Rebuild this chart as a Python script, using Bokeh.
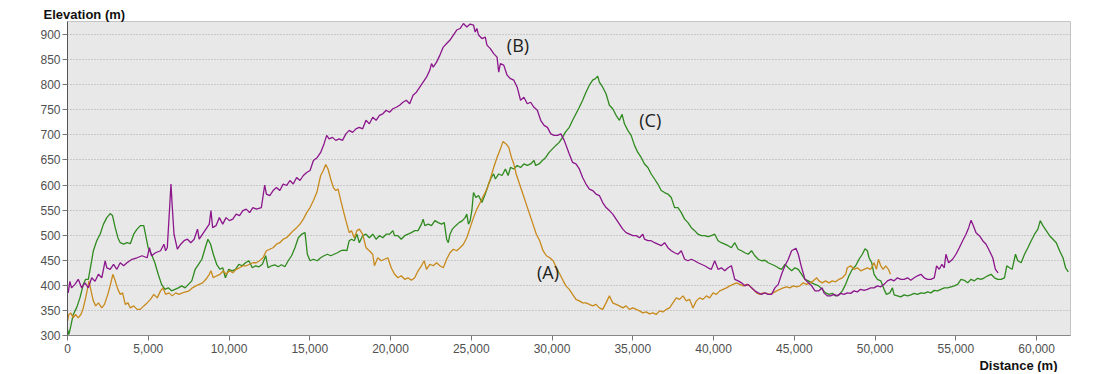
from bokeh.plotting import figure
from bokeh.models import Label, SingleIntervalTicker, NumeralTickFormatter, Range1d, Title
from bokeh.embed import file_html
from bokeh.resources import INLINE

# ---- data: distance (m) and elevation (m) ----
A_dist = [0, 83, 208, 354, 499, 666, 832, 978, 1123, 1248, 1331, 1456, 1602, 1747, 1914, 2122, 2288, 2496, 2662, 2808,
          2954, 3120, 3266, 3411, 3578, 3744, 3890, 4098, 4306, 4514, 4722, 4930, 5138, 5346, 5554, 5762, 5907, 6074,
          6282, 6490, 6698, 6906, 7114, 7322, 7530, 7738, 7946, 8154, 8362, 8570, 8778, 8882, 9027, 9235, 9443, 9651,
          9818, 10026, 10234, 10442, 10650, 10858, 11066, 11274, 11482, 11690, 11898, 12106, 12314, 12522, 12730,
          12938, 13146, 13354, 13562, 13770, 13978, 14186, 14394, 14602, 14810, 15018, 15226, 15434,
          15674, 15840, 15986, 16131, 16298, 16464, 16610, 16755, 16922, 17130, 17296, 17442, 17587, 17754, 17920,
          18066, 18274, 18482, 18690, 18898, 19002, 19210, 19418, 19626, 19834, 20042, 20250, 20458, 20666, 20874,
          21082, 21290, 21498, 21706, 21914, 22080, 22226, 22434, 22642, 22850, 23058, 23266, 23474, 23682, 23890,
          24098, 24306, 24514, 24722, 24930, 25138, 25346, 25554, 25762, 25970, 26178, 26386, 26594, 26802, 26968,
          27155, 27322, 27488, 27634, 27779, 27987, 28195, 28403, 28611, 28819, 29027, 29235, 29443, 29651, 29859,
          30067, 30275, 30483, 30691, 30858, 31067, 31274, 31481, 31688, 31895, 32102, 32309, 32516, 32723, 32930,
          33137, 33344, 33551, 33758, 33965, 34172, 34379, 34586, 34793, 35000, 35207, 35414, 35621, 35828, 36035,
          36242, 36449, 36656, 36863, 37070, 37277, 37484, 37691, 37898, 38105, 38312, 38519, 38726, 38933, 39140,
          39347, 39554, 39761, 39968, 40175, 40382, 40589, 40796, 41003, 41210, 41417, 41624, 41831, 42038, 42245,
          42452, 42659, 42866, 43073, 43280, 43487, 43694, 43901, 44108, 44315, 44522, 44729, 44936, 45143, 45350,
          45557, 45764, 45971, 46178, 46385, 46522, 46729, 46936, 47143, 47350, 47557, 47764, 47971, 48178, 48282,
          48489, 48696, 48903, 49110, 49317, 49524, 49731, 49938, 50083, 50207, 50352, 50497, 50662, 50828, 50952]
A_elev = [329, 342, 345, 335, 342, 335, 342, 355, 375, 395, 409, 389, 369, 359, 365, 355, 362, 382, 402, 422,
          409, 392, 382, 385, 362, 365, 355, 359, 352, 352, 359, 365, 372, 382, 375, 389, 395, 382,
          385, 379, 385, 382, 385, 387, 389, 395, 399, 402, 405, 412, 422, 429, 415, 419, 422, 429,
          422, 429, 425, 432, 435, 439, 439, 442, 445, 445, 449, 455, 469, 472, 475,
          482, 485, 492, 495, 502, 509, 515, 522, 532, 545, 555, 569, 585,
          619, 629, 641, 632, 612, 595, 589, 592, 569, 542, 522, 505, 509, 495, 509,
          512, 502, 475, 469, 462, 439, 455, 449, 452, 455, 435, 422, 415, 419, 412,
          415, 410, 415, 429, 439, 449, 432, 442, 439, 445, 439, 435, 452, 465, 472,
          469, 475, 482, 495, 515, 535, 552, 565, 579, 592, 612, 635, 655, 672, 687,
          682, 675, 655, 642, 622, 602, 582, 562, 542, 522, 502, 489, 469, 459, 455,
          449, 435, 422, 409, 399, 392, 382, 372, 369, 365, 365, 362, 359, 362, 355,
          352, 365, 379, 365, 362, 359, 355, 359, 352, 355, 352, 349, 345, 347, 343,
          345, 342, 349, 347, 352, 355, 365, 375, 372, 379, 369, 372, 355, 369, 375,
          372, 379, 375, 385, 382, 389, 392, 395, 399, 402, 405, 402, 399, 402, 399,
          392, 385, 382, 385, 384, 382, 385, 389, 392, 395, 397, 395, 399, 397, 399,
          405, 402, 405, 409, 415, 409, 405, 409, 405, 409, 407, 412, 415, 422, 435,
          439, 432, 435, 429, 432, 435, 432, 445, 432, 452, 439, 432, 439, 432, 422]

B_dist = [0, 42, 146, 250, 458, 666, 874, 1082, 1290, 1498, 1706, 1914, 2122, 2330, 2434, 2642, 2850, 3058, 3266, 3474,
          3682, 3994, 4306, 4618, 4930, 5075, 5200, 5450, 5762, 5970, 6074, 6178, 6323, 6406, 6490, 6594, 6802, 7010,
          7218, 7426, 7634, 7842, 8050, 8154, 8362, 8570, 8778, 8882, 8986, 9194, 9402, 9610, 9818, 10026, 10234,
          10442, 10650, 10858, 11066, 11274, 11482, 11690, 12002, 12210, 12314, 12522, 12730, 12938, 13146, 13354,
          13562, 13770, 13978, 14186, 14394, 14602, 14810, 15018, 15226, 15466, 15674, 15882, 16048, 16194, 16402,
          16610, 16818, 17026, 17234, 17442, 17650, 17858, 18066, 18274, 18482, 18690, 18898, 19106, 19314, 19522,
          19730, 19938, 20146, 20354, 20562, 20770, 20978, 21186, 21394, 21602, 21810, 22018, 22226, 22434, 22538,
          22642, 22850, 23058, 23266, 23474, 23682, 23890, 24098, 24306, 24514, 24722, 24930, 25138, 25242, 25346,
          25450, 25658, 25866, 25970, 26178, 26386, 26594, 26698, 26802, 27010, 27218, 27426, 27634, 27842, 28050,
          28258, 28466, 28674, 28882, 29090, 29298, 29506, 29714, 29922, 30130, 30338, 30546, 30754, 31067, 31274,
          31481, 31688, 31895, 32102, 32309, 32516, 32723, 32930, 33137, 33344, 33551, 33758, 33965, 34172, 34379,
          34586, 34793, 35000, 35207, 35414, 35621, 35725, 35932, 36139, 36346, 36553, 36760, 36967, 37174, 37381,
          37588, 37795, 38002, 38209, 38416, 38623, 38830, 39037, 39244, 39451, 39658, 39865, 40072, 40279, 40486,
          40693, 40900, 41107, 41314, 41521, 41728, 41935, 42142, 42349, 42556, 42763, 42970, 43177, 43384, 43591,
          43798, 44005, 44212, 44419, 44626, 44833, 45102, 45247, 45454, 45661, 45868, 46075, 46282, 46522, 46729,
          46833, 47040, 47247, 47454, 47661, 47868, 48075, 48282, 48489, 48696, 48903, 49110, 49317, 49524, 49731,
          49938, 50145, 50352, 50559, 50766, 50973, 51180, 51387, 51594, 51801, 52008, 52215, 52422, 52629, 52836,
          53043, 53250, 53457, 53664, 53809, 53974, 54140, 54285, 54388, 54554, 54802, 55009, 55216, 55423, 55630,
          55796, 55941, 56086, 56251, 56458, 56665, 56872, 57079, 57286, 57452, 57618]
B_elev = [389, 385, 408, 395, 402, 412, 395, 405, 395, 415, 408, 422, 415, 449, 435, 432, 442, 432, 445, 439,
          445, 452, 455, 459, 455, 475, 459, 465, 469, 482, 469, 475, 555, 602, 555, 502, 472, 482,
          489, 492, 485, 492, 512, 492, 502, 512, 522, 549, 515, 519, 535, 522, 535, 529, 532,
          542, 539, 549, 552, 545, 555, 552, 555, 600, 582, 579, 589, 595, 589, 602,
          599, 609, 602, 615, 609, 619, 625, 629, 649, 655, 665, 682, 699, 692, 695,
          689, 692, 689, 702, 709, 705, 712, 715, 712, 729, 722, 735, 729, 739, 742,
          749, 745, 752, 755, 759, 765, 769, 762, 779, 785, 795, 805, 815, 829, 842,
          835, 845, 859, 875, 882, 889, 899, 909, 912, 922, 915, 921, 919, 905, 912,
          899, 892, 895, 879, 872, 862, 855, 825, 842, 839, 819, 812, 809, 795, 769,
          775, 762, 765, 755, 749, 729, 719, 715, 702, 699, 699, 702, 689, 662, 645,
          642, 632, 615, 602, 592, 589, 582, 579, 565, 555, 549, 542, 532, 522, 512,
          505, 502, 499, 499, 495, 502, 492, 489, 489, 485, 482, 479, 485, 475, 469,
          465, 462, 469, 452, 449, 452, 449, 445, 442, 439, 435, 432, 449, 432, 435,
          429, 435, 439, 412, 409, 405, 399, 402, 395, 389, 385, 382, 385, 382, 382,
          395, 402, 422, 439, 452, 469, 474, 462, 435, 412, 405, 399, 389, 389, 395,
          385, 379, 379, 382, 379, 384, 382, 385, 384, 389, 387, 392, 390, 392, 395,
          395, 399, 397, 402, 409, 412, 409, 415, 412, 412, 415, 410, 415, 419, 422,
          415, 412, 412, 415, 439, 432, 442, 435, 462, 445, 452, 462, 475, 489, 502,
          515, 530, 519, 505, 499, 489, 482, 469, 455, 432, 425]

C_dist = [0, 83, 208, 354, 562, 770, 978, 1123, 1290, 1456, 1602, 1810, 2018, 2226, 2434, 2642, 2787, 2954, 3120, 3266,
          3474, 3682, 3890, 4098, 4306, 4514, 4722, 4826, 4992, 5200, 5408, 5616, 5824, 6032, 6240, 6448, 6656, 6864,
          7072, 7280, 7488, 7696, 7904, 8112, 8320, 8528, 8694, 8861, 9027, 9235, 9443, 9610, 9776, 9984, 10192,
          10400, 10608, 10816, 11024, 11232, 11440, 11648, 11856, 12064, 12272, 12418, 12626, 12834, 13042, 13250,
          13458, 13666, 13874, 14082, 14290, 14498, 14706, 14851, 15018, 15226, 15466, 15674, 15882, 16090, 16298,
          16506, 16714, 16922, 17130, 17296, 17442, 17587, 17754, 17920, 18066, 18274, 18482, 18690, 18898, 19106,
          19314, 19522, 19730, 19938, 20146, 20250, 20458, 20666, 20874, 21082, 21290, 21498, 21706, 21914, 22018,
          22122, 22330, 22538, 22746, 22954, 23162, 23328, 23474, 23578, 23682, 23827, 24035, 24243, 24451, 24618,
          24722, 24826, 24930, 25034, 25138, 25283, 25450, 25658, 25866, 26074, 26240, 26386, 26490, 26698, 26906,
          27114, 27280, 27426, 27634, 27842, 28050, 28258, 28466, 28674, 28882, 28986, 29194, 29402, 29610, 29818,
          30026, 30234, 30442, 30650, 30816, 31067, 31274, 31481, 31688, 31895, 32102, 32309, 32516, 32682, 32826,
          32930, 33137, 33344, 33551, 33758, 33965, 34172, 34338, 34483, 34690, 34897, 35104, 35311, 35518, 35725,
          35932, 36139, 36346, 36553, 36760, 36967, 37174, 37381, 37588, 37795, 38002, 38209, 38416, 38623, 38830,
          39037, 39244, 39451, 39658, 39865, 40072, 40279, 40486, 40693, 40900, 41107, 41314, 41521, 41728, 41935,
          42142, 42349, 42556, 42763, 42970, 43177, 43384, 43591, 43798, 44005, 44212, 44419, 44626, 44833, 45040,
          45247, 45454, 45661, 45868, 46075, 46282, 46509, 46729, 46936, 47143, 47350, 47557, 47764, 47971, 48178,
          48385, 48592, 48799, 49006, 49213, 49379, 49524, 49627, 49793, 49938, 50145, 50352, 50559, 50704, 50911,
          51076, 51180, 51387, 51594, 51801, 52008, 52215, 52422, 52629, 52836, 53043, 53250, 53457, 53664, 53871,
          54078, 54285, 54492, 54699, 54906, 55113, 55320, 55527, 55734, 55941, 56148, 56355, 56562, 56769, 56976,
          57183, 57390, 57597, 57804, 58011, 58156, 58321, 58487, 58694, 58839, 59046, 59253, 59460, 59667, 59874,
          60081, 60226, 60391, 60598, 60805, 61012, 61219, 61426, 61633, 61799, 61965]
C_elev = [312, 302, 319, 342, 355, 375, 402, 412, 412, 442, 469, 489, 502, 522, 535, 543, 539, 515, 495, 485,
          482, 485, 483, 502, 512, 519, 519, 502, 475, 462, 445, 422, 402, 392, 395, 389, 392, 395,
          399, 395, 402, 409, 432, 442, 452, 475, 492, 482, 462, 442, 432, 435, 415, 432, 429,
          432, 442, 439, 445, 449, 435, 439, 437, 442, 459, 435, 439, 441, 437, 441,
          437, 449, 459, 475, 495, 502, 505, 462, 449, 452, 449, 455, 459, 462, 459,
          462, 465, 469, 470, 469, 489, 492, 489, 502, 485, 499, 502, 495, 502, 492,
          499, 495, 502, 502, 509, 499, 499, 492, 499, 502, 505, 509, 509, 522, 532,
          519, 522, 519, 529, 525, 522, 525, 492, 485, 502, 512, 519, 525, 529, 535,
          542, 522, 529, 549, 585, 575, 579, 565, 582, 602, 615, 622, 612, 622, 619,
          632, 619, 635, 632, 639, 635, 642, 639, 642, 649, 639, 642, 649, 655, 665,
          672, 679, 685, 695, 705, 715, 729, 742, 755, 769, 785, 799, 809, 812, 817,
          805, 795, 782, 759, 752, 739, 729, 741, 722, 709, 699, 679, 665, 655, 642,
          635, 622, 612, 602, 589, 585, 582, 575, 555, 555, 545, 532, 525, 515, 509,
          502, 499, 499, 497, 499, 502, 489, 485, 482, 479, 475, 485, 472, 469, 465,
          462, 469, 459, 452, 449, 450, 445, 442, 439, 435, 432, 442, 435, 429, 435,
          432, 422, 412, 409, 405, 402, 399, 392, 385, 382, 384, 379, 381, 389, 402,
          419, 432, 439, 452, 462, 473, 469, 455, 445, 422, 412, 409, 392, 382, 385,
          395, 381, 379, 377, 381, 379, 381, 384, 382, 385, 384, 387, 385, 390, 389,
          392, 395, 395, 397, 399, 402, 412, 410, 405, 412, 409, 414, 412, 415, 419,
          422, 415, 412, 412, 415, 439, 435, 432, 462, 449, 445, 462, 475, 489, 502,
          512, 529, 519, 509, 499, 492, 485, 469, 455, 435, 427]

x_ticks_interval = 5000
y_ticks_interval = 50

COL_A = "#c88a1c"
COL_B = "#8c168c"
COL_C = "#2f8a1f"

W, H = 1096, 372
p = figure(width=W, height=H, output_backend="svg", toolbar_location=None,
           x_range=Range1d(0, 62100), y_range=Range1d(300, 926),
           min_border_left=67, min_border_right=W - 1070, min_border_top=21, min_border_bottom=H - 336)
p.background_fill_color = "#e8e8e8"
p.border_fill_color = "white"
p.outline_line_color = "#c4c4c4"
p.outline_line_width = 1

p.line(C_dist, C_elev, line_color=COL_C, line_width=1.3)
p.line(A_dist, A_elev, line_color=COL_A, line_width=1.3)
p.line(B_dist, B_elev, line_color=COL_B, line_width=1.3)

p.xgrid.visible = False
p.ygrid.grid_line_color = "#a8a8a8"
p.ygrid.grid_line_dash = "1 2"
p.ygrid.grid_line_width = 1

p.xaxis.ticker = SingleIntervalTicker(interval=x_ticks_interval)
p.yaxis.ticker = SingleIntervalTicker(interval=y_ticks_interval)
p.xaxis.formatter = NumeralTickFormatter(format="0,0")
for ax in (p.xaxis, p.yaxis):
    ax.minor_tick_line_color = None
    ax.major_label_text_font = "Liberation Sans"
    ax.major_label_text_font_size = "12px"
    ax.major_label_text_color = "#505050"
    ax.major_tick_in = 0
    ax.major_tick_out = 5
    ax.major_tick_line_color = "#777777"
p.yaxis.axis_line_color = "#555555"
p.xaxis.axis_line_color = "#888888"
p.yaxis.major_label_standoff = 2
p.xaxis.major_label_standoff = 3

p.title.text = "Elevation (m)"
p.title.align = "left"
p.title.offset = -24
p.title.standoff = 0
p.title.text_font = "Liberation Sans"
p.title.text_font_size = "13px"
p.title.text_font_style = "bold"
p.title.text_color = "#111111"

p.add_layout(Title(text="Distance (m)", align="right", offset=13, standoff=0,
                   text_font="Liberation Sans", text_font_size="13px", text_font_style="bold",
                   text_color="#111111"), "below")

for txt, xx, yy in [("(A)", 29750, 427), ("(B)", 27890, 880), ("(C)", 36080, 729)]:
    p.add_layout(Label(x=xx, y=yy, text=txt, text_font="Open Sans", text_font_size="18px",
                       text_color="#222222", text_align="center", text_baseline="middle"))

open("out.html", "w").write(file_html(p, INLINE))
